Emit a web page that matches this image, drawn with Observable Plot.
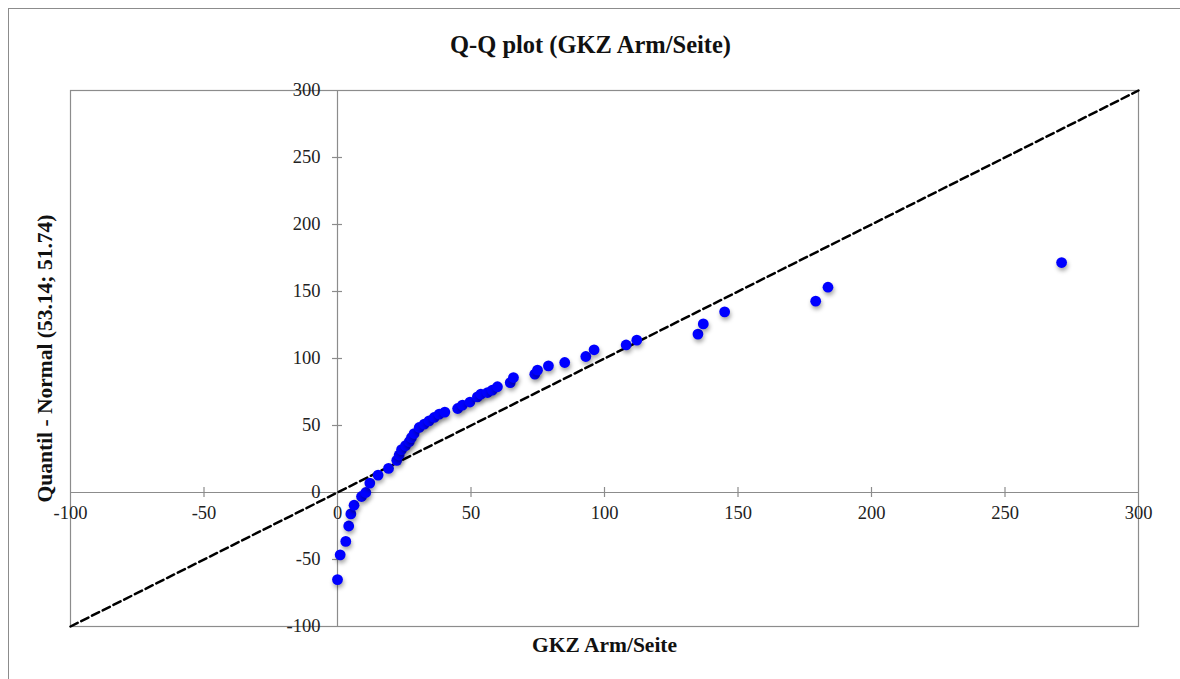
<!DOCTYPE html>
<html>
<head>
<meta charset="utf-8">
<script src="https://cdn.jsdelivr.net/npm/d3@7"></script>
<script src="https://cdn.jsdelivr.net/npm/@observablehq/plot@0.6"></script>
<style>
  html, body { margin: 0; padding: 0; background: #fff; overflow: hidden; }
  #page { position: relative; width: 1180px; height: 679px; }
  #sheet { position: absolute; left: 8px; top: 8px; width: 1240px; height: 740px; border: 1px solid #8c8c8c; box-sizing: border-box; }
  #chart { position: absolute; left: 0; top: 0; }
  #chart svg { overflow: visible; }
  #chart g[aria-label="dot"] circle { filter: drop-shadow(1px 3px 2px rgba(0,0,0,0.35)); }
</style>
</head>
<body>
<div id="page">
  <div id="sheet"></div>
  <div id="chart"></div>
</div>
<script>
// Observed GKZ Arm/Seite values (sorted) and their normal quantiles (mean 53.14, sd 51.74)
const observed = [0, 1, 3.1, 4.2, 5, 6.2, 9, 10.6, 12.1, 15.2, 19.1, 22.2, 23.1, 24, 25.5, 26.9, 27.7, 28.7, 30.6, 32.5,
  34.3, 36.2, 38.1, 40.2, 45, 46.8, 49.6, 52.4, 53.7, 56.2, 58, 59.9, 64.7, 65.9, 73.9, 74.9, 79, 85.1, 93, 96.1,
  108.1, 112.1, 135, 137, 145, 179.1, 183.7, 271.2];
const normalQuantile = [-65, -46.5, -36.5, -25, -16, -9.5, -3, 0, 7, 13, 18, 24, 28, 32, 35, 38, 41, 44, 48.5, 51,
  53.5, 56, 58.5, 60, 62.7, 65.2, 67.5, 71.4, 73.4, 74.6, 76.4, 78.9, 82, 85.8, 88.3, 91.3, 94.5, 97, 101.5, 106.5,
  110.1, 113.7, 118.2, 125.8, 134.8, 142.8, 153.2, 171.6];

// Diagonal reference line endpoints (y = x)
const diagonal = [-100, 300];

// Axis ticks
const xTicks = [-100, -50, 0, 50, 100, 150, 200, 250, 300];
const yTicks = [-100, -50, 0, 50, 100, 150, 200, 250, 300];
const xTickMarks = [-50, 50, 100, 150, 200, 250];
const yTickMarks = [-50, 50, 100, 150, 200, 250];

const title = "Q-Q plot (GKZ Arm/Seite)";
const xTitle = "GKZ Arm/Seite";
const yTitle = "Quantil - Normal (53.14; 51.74)";

const points = observed.map((x, i) => ({x, q: normalQuantile[i]}));
const serif = "'Liberation Serif', 'DejaVu Serif', serif";
const axisGray = "#8c8c8c";

const chart = Plot.plot({
  width: 1180,
  height: 679,
  marginLeft: 70,
  marginRight: 42,
  marginTop: 90,
  marginBottom: 53,
  x: {domain: [-100, 300], axis: null},
  y: {domain: [-100, 300], axis: null},
  style: {fontFamily: serif, background: "transparent"},
  marks: [
    Plot.frame({stroke: axisGray, strokeWidth: 1.2}),
    // axes crossing at the origin
    Plot.ruleY([0], {stroke: axisGray, strokeWidth: 1.2}),
    Plot.ruleX([0], {stroke: axisGray, strokeWidth: 1.2}),
    Plot.ruleX(xTickMarks, {x: d => d, y1: 0, y2: 0, insetTop: -5, insetBottom: -5, stroke: axisGray, strokeWidth: 1.2}),
    Plot.ruleY(yTickMarks, {y: d => d, x1: 0, x2: 0, insetLeft: -5, insetRight: -5, stroke: axisGray, strokeWidth: 1.2}),
    Plot.text(xTicks, {x: d => d, y: 0, dy: 21, text: d => String(d), fontSize: 18.5, fill: "#222"}),
    Plot.text(yTicks, {x: 0, y: d => d, dx: -17, textAnchor: "end", text: d => String(d), fontSize: 18.5, fill: "#222"}),
    // y = x reference line
    Plot.line(diagonal, {x: d => d, y: d => d, stroke: "#000", strokeWidth: 2.5, strokeDasharray: "8,4"}),
    Plot.dot(points, {x: "x", y: "q", r: 5.4, fill: "#0000ff", stroke: "none"}),
    // titles
    Plot.text([title], {frameAnchor: "top", lineAnchor: "middle", dx: -14, dy: -45, text: d => d, fontSize: 24.5, fontWeight: "bold", fill: "#111"}),
    Plot.text([xTitle], {frameAnchor: "bottom", lineAnchor: "middle", dy: 19, text: d => d, fontSize: 21.5, fontWeight: "bold", fill: "#111"}),
    Plot.text([yTitle], {frameAnchor: "left", textAnchor: "middle", dx: -25, rotate: -90, text: d => d, fontSize: 21.5, fontWeight: "bold", fill: "#111"})
  ]
});
document.getElementById("chart").appendChild(chart);
</script>
</body>
</html>
